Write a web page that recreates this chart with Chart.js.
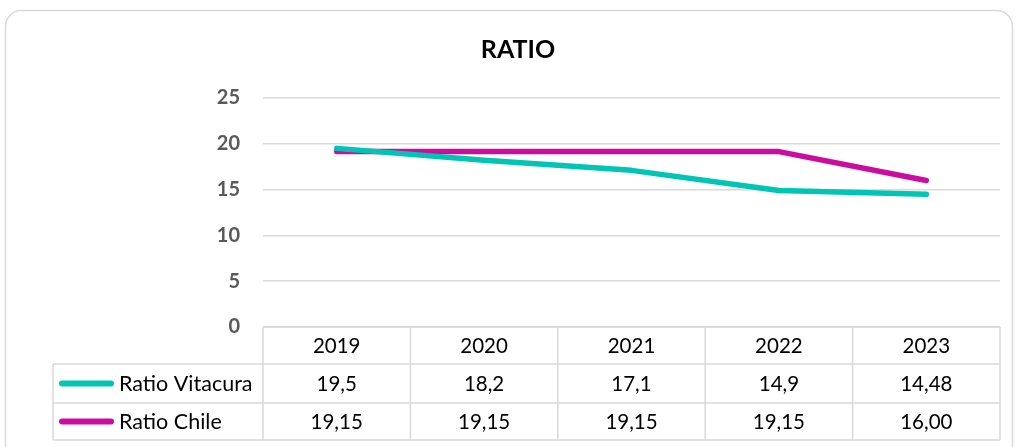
<!DOCTYPE html>
<html><head><meta charset="utf-8">
<script src="https://cdn.jsdelivr.net/npm/chart.js@4.4.1/dist/chart.umd.min.js"></script>
<style>html,body{margin:0;padding:0;background:#fff}#wrap{width:1016px;height:447px}</style>
</head><body><div id="wrap"><canvas id="c" width="1016" height="447"></canvas></div>
<script>
const title = 'RATIO';
const years = ['2019', '2020', '2021', '2022', '2023'];
const seriesNames = ['Ratio Vitacura', 'Ratio Chile'];
const vitacura = [19.5, 18.2, 17.1, 14.9, 14.48];
const chile = [19.15, 19.15, 19.15, 19.15, 16.00];
const colors = ['#00C5B5', '#CC0C9F'];
const yTicks = [0, 5, 10, 15, 20, 25];

const fmtV = v => String(v).replace('.', ',');
const fmtC = v => v.toFixed(2).replace('.', ',');
const tableRows = [vitacura.map(fmtV), chile.map(fmtC)];

const FONT = 'Lato, "Liberation Sans", sans-serif';
const GRID = '#d9d9d9';

const framePlugin = {
  id: 'frame',
  beforeDraw(chart) {
    const ctx = chart.ctx;
    ctx.save();
    ctx.fillStyle = '#fff';
    ctx.fillRect(0, 0, chart.width, chart.height);
    ctx.strokeStyle = GRID;
    ctx.lineWidth = 1.5;
    ctx.beginPath();
    ctx.roundRect(5.5, 10.5, 1007, 460, 16);
    ctx.stroke();
    ctx.restore();
  },
  afterDraw(chart) {
    const ctx = chart.ctx;
    const xs = chart.scales.x;
    const area = chart.chartArea;
    ctx.save();
    // title
    ctx.fillStyle = '#000';
    ctx.font = 'bold 25px ' + FONT;
    ctx.textAlign = 'center';
    ctx.textBaseline = 'middle';
    ctx.fillText(title, 518, 50);
    // table
    const left = area.left, right = area.right;
    const colW = (right - left) / years.length;
    const rowTop = [area.bottom, 364, 403];
    const rowBot = 440;
    const labelLeft = 53;
    ctx.strokeStyle = GRID;
    ctx.lineWidth = 1.5;
    ctx.beginPath();
    ctx.moveTo(left, rowTop[0]); ctx.lineTo(right, rowTop[0]);
    ctx.moveTo(labelLeft, rowTop[1]); ctx.lineTo(right, rowTop[1]);
    ctx.moveTo(labelLeft, rowTop[2]); ctx.lineTo(right, rowTop[2]);
    ctx.moveTo(labelLeft, rowBot); ctx.lineTo(right, rowBot);
    for (let i = 0; i <= years.length; i++) {
      const x = left + i * colW;
      ctx.moveTo(x, rowTop[0]); ctx.lineTo(x, rowBot);
    }
    ctx.moveTo(labelLeft, rowTop[1]); ctx.lineTo(labelLeft, rowBot);
    ctx.stroke();
    ctx.fillStyle = '#000';
    ctx.font = '20.5px ' + FONT;
    const rowsY = [(rowTop[0] + rowTop[1]) / 2, (rowTop[1] + rowTop[2]) / 2, (rowTop[2] + rowBot) / 2];
    years.forEach((y, i) => {
      const cx = xs.getPixelForValue(i);
      ctx.textAlign = 'center';
      ctx.fillText(y, cx, rowsY[0] + 1);
      tableRows.forEach((r, j) => ctx.fillText(r[i], cx, rowsY[j + 1] + 1));
    });
    ctx.font = '21.5px ' + FONT;
    seriesNames.forEach((n, j) => {
      const yy = rowsY[j + 1];
      ctx.strokeStyle = colors[j];
      ctx.lineWidth = 6;
      ctx.lineCap = 'round';
      ctx.beginPath();
      ctx.moveTo(62, yy); ctx.lineTo(111, yy);
      ctx.stroke();
      ctx.textAlign = 'left';
      ctx.fillText(n, 119, yy + 1);
    });
    ctx.restore();
  }
};

new Chart(document.getElementById('c'), {
  type: 'line',
  data: {
    labels: years,
    datasets: [
      { label: seriesNames[0], data: vitacura, borderColor: colors[0], backgroundColor: colors[0] },
      { label: seriesNames[1], data: chile, borderColor: colors[1], backgroundColor: colors[1] }
    ]
  },
  options: {
    responsive: false,
    animation: false,
    devicePixelRatio: 1,
    layout: { padding: { top: 98, bottom: 120, left: 0, right: 16 } },
    elements: {
      line: { borderWidth: 5.5, tension: 0, borderCapStyle: 'round', borderJoinStyle: 'round' },
      point: { radius: 0, hoverRadius: 0 }
    },
    plugins: { legend: { display: false }, title: { display: false }, tooltip: { enabled: false } },
    scales: {
      x: { type: 'category', offset: true, display: false },
      y: {
        min: 0, max: 25,
        afterFit(s) { s.width = 263; },
        afterBuildTicks(s) { s.ticks = yTicks.map(v => ({ value: v })); },
        border: { display: false },
        grid: { color: GRID, lineWidth: 1.5, drawTicks: false },
        ticks: { padding: 23, color: '#595959', font: { family: FONT, size: 20, weight: 'bold' } }
      }
    }
  },
  plugins: [framePlugin]
});
</script></body></html>
